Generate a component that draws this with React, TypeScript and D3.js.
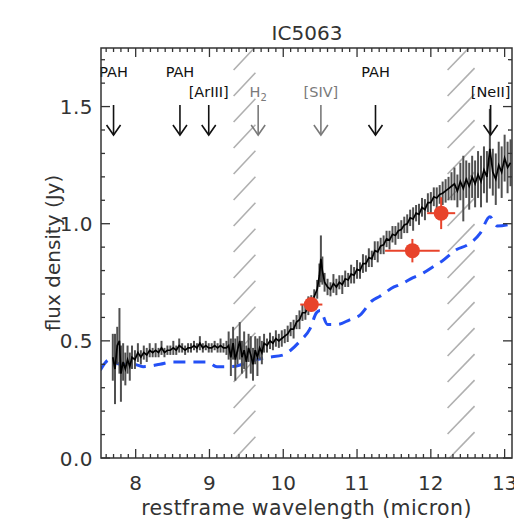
import { useEffect, useRef } from "react";
import * as d3 from "d3";

// IRS spectrum (micron, Jy, 1-sigma)
const wave = [7.69, 7.72, 7.75, 7.78, 7.8, 7.83, 7.86, 7.89, 7.92, 7.95, 7.99, 8.03, 8.07, 8.11, 8.15, 8.19, 8.23, 8.27, 8.31, 8.35, 8.39, 8.43, 8.47, 8.51, 8.55, 8.59, 8.63, 8.67, 8.71, 8.75, 8.79, 8.83, 8.87, 8.91, 8.95, 8.99, 9.03, 9.07, 9.11, 9.15, 9.19, 9.23,
  9.26, 9.29, 9.32, 9.35, 9.38, 9.41, 9.44, 9.47, 9.5, 9.53, 9.56, 9.59, 9.62, 9.65, 9.68, 9.71, 9.74, 9.78, 9.82, 9.86, 9.9, 9.94, 9.98,
  10.02, 10.06, 10.1, 10.14, 10.18, 10.22, 10.26, 10.3, 10.34, 10.38, 10.42, 10.46, 10.49, 10.51, 10.53, 10.56, 10.6, 10.64, 10.68, 10.72, 10.76, 10.8, 10.84, 10.88, 10.92, 10.96,
  11.0, 11.04, 11.08, 11.12, 11.16, 11.2, 11.24, 11.28, 11.32, 11.36, 11.4, 11.44, 11.48, 11.52, 11.56, 11.6, 11.64, 11.68, 11.72, 11.76, 11.8, 11.84, 11.88, 11.92, 11.96,
  12.0, 12.04, 12.08, 12.12, 12.16, 12.2, 12.24, 12.28, 12.32, 12.36, 12.4, 12.44, 12.48, 12.52, 12.56, 12.6, 12.64, 12.68, 12.72, 12.76, 12.8, 12.84, 12.88, 12.92, 12.96, 13.0, 13.04, 13.08];
const flux = [0.43, 0.38, 0.48, 0.5, 0.36, 0.41, 0.38, 0.42, 0.39, 0.43, 0.42, 0.45, 0.43, 0.45, 0.44, 0.46, 0.45, 0.46, 0.45, 0.47, 0.45, 0.46, 0.46, 0.47, 0.46, 0.48, 0.47, 0.46, 0.47, 0.47, 0.48, 0.47, 0.49, 0.47, 0.48, 0.47, 0.47, 0.48, 0.47, 0.48, 0.47, 0.47,
  0.48, 0.43, 0.49, 0.42, 0.46, 0.5, 0.43, 0.46, 0.41, 0.47, 0.44, 0.4, 0.46, 0.43, 0.47, 0.45, 0.49, 0.48, 0.5, 0.49, 0.51, 0.5, 0.51,
  0.52, 0.53, 0.55, 0.55, 0.58, 0.59, 0.62, 0.62, 0.65, 0.66, 0.69, 0.72, 0.78, 0.85, 0.8, 0.75, 0.73, 0.72, 0.745, 0.73, 0.75, 0.74, 0.765, 0.76, 0.785, 0.78,
  0.805, 0.8, 0.83, 0.83, 0.855, 0.85, 0.885, 0.88, 0.905, 0.91, 0.935, 0.93, 0.955, 0.95, 0.97, 0.975, 0.995, 1.0, 1.025, 1.02, 1.045, 1.04, 1.07, 1.06, 1.09,
  1.09, 1.115, 1.11, 1.125, 1.13, 1.14, 1.15, 1.16, 1.17, 1.14, 1.18, 1.15, 1.19, 1.16, 1.2, 1.17, 1.21, 1.18, 1.23, 1.2, 1.32, 1.22, 1.19, 1.25, 1.22, 1.28, 1.24, 1.26];
const fluxErr = [0.1, 0.15, 0.08, 0.14, 0.12, 0.08, 0.07, 0.06, 0.06, 0.05, 0.04, 0.04, 0.03, 0.03, 0.03, 0.03, 0.02, 0.03, 0.02, 0.03, 0.02, 0.02, 0.02, 0.03, 0.02, 0.03, 0.02, 0.02, 0.02, 0.02, 0.02, 0.02, 0.03, 0.02, 0.02, 0.02, 0.02, 0.02, 0.02, 0.03, 0.02, 0.03,
  0.06, 0.08, 0.07, 0.09, 0.06, 0.08, 0.07, 0.08, 0.07, 0.06, 0.08, 0.07, 0.06, 0.08, 0.05, 0.05, 0.04, 0.03, 0.035, 0.03, 0.035, 0.03, 0.035,
  0.03, 0.035, 0.03, 0.04, 0.03, 0.04, 0.035, 0.03, 0.04, 0.035, 0.03, 0.04, 0.05, 0.1, 0.06, 0.04, 0.035, 0.03, 0.04, 0.035, 0.03, 0.04, 0.035, 0.03, 0.04, 0.035,
  0.04, 0.035, 0.04, 0.035, 0.04, 0.035, 0.04, 0.045, 0.035, 0.04, 0.035, 0.04, 0.035, 0.04, 0.035, 0.04, 0.035, 0.04, 0.035, 0.05, 0.035, 0.045, 0.04, 0.045, 0.04,
  0.045, 0.04, 0.045, 0.04, 0.05, 0.05, 0.05, 0.06, 0.07, 0.07, 0.08, 0.14, 0.08, 0.1, 0.09, 0.1, 0.1, 0.11, 0.1, 0.11, 0.17, 0.1, 0.11, 0.1, 0.11, 0.1, 0.11, 0.1];

// model continuum (blue dashed)
const modelWave = [7.52, 7.65, 7.79, 7.97, 8.1, 8.33, 8.5, 8.75, 8.97, 9.1, 9.3, 9.45, 9.64, 9.8, 10.0, 10.1, 10.23, 10.36, 10.45, 10.5, 10.6, 10.73, 10.9, 11.04, 11.2, 11.31, 11.5, 11.58, 11.76, 11.9, 12.05, 12.15, 12.35, 12.5, 12.67, 12.8, 12.9, 13.1];
const modelFlux = [0.375, 0.42, 0.4, 0.4, 0.39, 0.4, 0.41, 0.41, 0.41, 0.39, 0.39, 0.4, 0.42, 0.43, 0.44, 0.46, 0.5, 0.55, 0.62, 0.63, 0.57, 0.57, 0.59, 0.61, 0.67, 0.69, 0.73, 0.74, 0.77, 0.79, 0.82, 0.84, 0.89, 0.91, 0.96, 1.03, 0.99, 1.0];

// photometry (red)
const photWave = [10.38, 11.75, 12.14];
const photFlux = [0.655, 0.885, 1.045];
const photWaveErr = [0.15, 0.37, 0.19];
const photFluxErr = [0.02, 0.05, 0.068];

// line identifications
const lineNames = ["PAH", "PAH", "[ArIII]", "H2", "[SIV]", "PAH", "[NeII]"];
const lineWave = [7.7, 8.6, 8.99, 9.66, 10.51, 11.25, 12.81];
const lineRow = [0, 0, 1, 1, 1, 0, 1];
const lineFaint = [false, false, false, true, true, false, false];

const maskedRanges = [[9.3, 9.65], [12.2, 12.62]];
const xTicks = [8, 9, 10, 11, 12, 13];
const yTicks = [0, 0.5, 1.0, 1.5];

const W = 514, H = 523;
const FONT = "'DejaVu Sans', Arial, sans-serif";

export default function App() {
  const ref = useRef<SVGSVGElement>(null);

  useEffect(() => {
    const svg = d3.select(ref.current);
    svg.selectAll("*").remove();

    const left = 101, right = 512, top = 48, bottom = 458;
    const x = d3.scaleLinear().domain([7.53, 13.1]).range([left, right]);
    const y = d3.scaleLinear().domain([0, 1.75]).range([bottom, top]);

    svg.append("defs").append("clipPath").attr("id", "plotclip")
      .append("rect").attr("x", left).attr("y", top)
      .attr("width", right - left).attr("height", bottom - top);

    const g = svg.append("g").attr("clip-path", "url(#plotclip)");

    // hatched (masked) regions
    maskedRanges.forEach(([a, b], i) => {
      const x0 = x(a), x1 = x(b);
      const id = "hclip" + i;
      svg.select("defs").append("clipPath").attr("id", id)
        .append("rect").attr("x", x0).attr("y", top)
        .attr("width", x1 - x0).attr("height", bottom - top);
      const hg = g.append("g").attr("clip-path", `url(#${id})`);
      const dy = (x1 - x0) * 0.9;
      for (let yy = top - 30; yy < bottom + 60; yy += 26) {
        hg.append("line")
          .attr("x1", x0 + 2).attr("y1", yy)
          .attr("x2", x1 - 2).attr("y2", yy - dy)
          .attr("stroke", "#b0b0b0").attr("stroke-width", 1.6);
      }
    });

    // model
    const model = modelWave.map((w, i) => [w, modelFlux[i]] as [number, number]);
    g.append("path")
      .attr("d", d3.line<[number, number]>().x(d => x(d[0])).y(d => y(d[1])).curve(d3.curveMonotoneX)(model))
      .attr("fill", "none").attr("stroke", "#2450f5").attr("stroke-width", 3)
      .attr("stroke-dasharray", "12,8");

    // spectrum errors
    g.selectAll(".err").data(wave).enter().append("line")
      .attr("x1", d => x(d)).attr("x2", d => x(d))
      .attr("y1", (d, i) => y(flux[i] - fluxErr[i]))
      .attr("y2", (d, i) => y(flux[i] + fluxErr[i]))
      .attr("stroke", "#505050").attr("stroke-width", 2);

    const spec = wave.map((w, i) => [w, flux[i]] as [number, number]);
    g.append("path")
      .attr("d", d3.line<[number, number]>().x(d => x(d[0])).y(d => y(d[1]))(spec))
      .attr("fill", "none").attr("stroke", "#000").attr("stroke-width", 1.7);

    // photometry
    const red = "#e8432b";
    photWave.forEach((w, i) => {
      g.append("line")
        .attr("x1", x(w - photWaveErr[i])).attr("x2", x(w + photWaveErr[i]))
        .attr("y1", y(photFlux[i])).attr("y2", y(photFlux[i]))
        .attr("stroke", red).attr("stroke-width", 2);
      g.append("line")
        .attr("x1", x(w)).attr("x2", x(w))
        .attr("y1", y(photFlux[i] - photFluxErr[i])).attr("y2", y(photFlux[i] + photFluxErr[i]))
        .attr("stroke", red).attr("stroke-width", 2);
      g.append("circle").attr("cx", x(w)).attr("cy", y(photFlux[i])).attr("r", 7.5).attr("fill", red);
    });

    // line markers
    lineWave.forEach((w, i) => {
      const col = lineFaint[i] ? "#7a7a7a" : "#111";
      const px = x(w);
      const t = svg.append("text")
        .attr("x", px).attr("y", lineRow[i] === 0 ? 77 : 97)
        .attr("text-anchor", "middle")
        .attr("font-family", FONT).attr("font-size", 14.5)
        .attr("fill", col);
      if (lineNames[i] === "H2") {
        t.append("tspan").text("H");
        t.append("tspan").attr("font-size", 10).attr("dy", 4).text("2");
      } else {
        t.text(lineNames[i]);
      }
      svg.append("line").attr("x1", px).attr("x2", px).attr("y1", 105).attr("y2", 135)
        .attr("stroke", col).attr("stroke-width", 1.6);
      svg.append("path").attr("d", `M${px - 7},${125} L${px},${135} L${px + 7},${125}`)
        .attr("fill", "none").attr("stroke", col).attr("stroke-width", 1.6);
    });

    // axes frame and ticks
    const axisCol = "#333";
    svg.append("rect").attr("x", left).attr("y", top)
      .attr("width", right - left).attr("height", bottom - top)
      .attr("fill", "none").attr("stroke", axisCol).attr("stroke-width", 1.5);

    const xMinor = d3.range(7.6, 13.1, 0.1).map(v => Math.round(v * 10) / 10)
      .filter(v => !xTicks.includes(v));
    const yMinor = d3.range(0.1, 1.75, 0.1).map(v => Math.round(v * 10) / 10)
      .filter(v => !yTicks.includes(v));

    const tick = (x1: number, y1: number, x2: number, y2: number) =>
      svg.append("line").attr("x1", x1).attr("y1", y1).attr("x2", x2).attr("y2", y2)
        .attr("stroke", axisCol).attr("stroke-width", 1.3);

    xMinor.forEach(v => { tick(x(v), bottom, x(v), bottom - 4); tick(x(v), top, x(v), top + 4); });
    xTicks.forEach(v => { tick(x(v), bottom, x(v), bottom - 9); tick(x(v), top, x(v), top + 9); });
    yMinor.forEach(v => { tick(left, y(v), left + 4, y(v)); tick(right, y(v), right - 4, y(v)); });
    yTicks.forEach(v => { tick(left, y(v), left + 9, y(v)); tick(right, y(v), right - 9, y(v)); });

    xTicks.forEach(v => {
      svg.append("text").attr("x", x(v)).attr("y", 490)
        .attr("text-anchor", "middle").attr("font-family", FONT).attr("font-size", 20)
        .attr("fill", axisCol).text(String(v));
    });
    yTicks.forEach(v => {
      svg.append("text").attr("x", 93).attr("y", y(v) + 7.5)
        .attr("text-anchor", "end").attr("font-family", FONT).attr("font-size", 20)
        .attr("letter-spacing", 0.5)
        .attr("fill", axisCol).text(d3.format(".1f")(v));
    });

    svg.append("text").attr("x", (left + right) / 2).attr("y", 515)
      .attr("text-anchor", "middle").attr("font-family", FONT).attr("font-size", 20.5)
      .attr("letter-spacing", 0.4)
      .attr("fill", axisCol).text("restframe wavelength (micron)");

    svg.append("text").attr("transform", `translate(60,${(top + bottom) / 2}) rotate(-90)`)
      .attr("text-anchor", "middle").attr("font-family", FONT).attr("font-size", 20)
      .attr("fill", axisCol).text("flux density (Jy)");

    svg.append("text").attr("x", 307).attr("y", 40)
      .attr("text-anchor", "middle").attr("font-family", FONT).attr("font-size", 20)
      .attr("fill", axisCol).text("IC5063");
  }, []);

  return (
    <svg ref={ref} width={W} height={H}
      style={{ position: "absolute", left: 0, top: 0, background: "#fff" }} />
  );
}
